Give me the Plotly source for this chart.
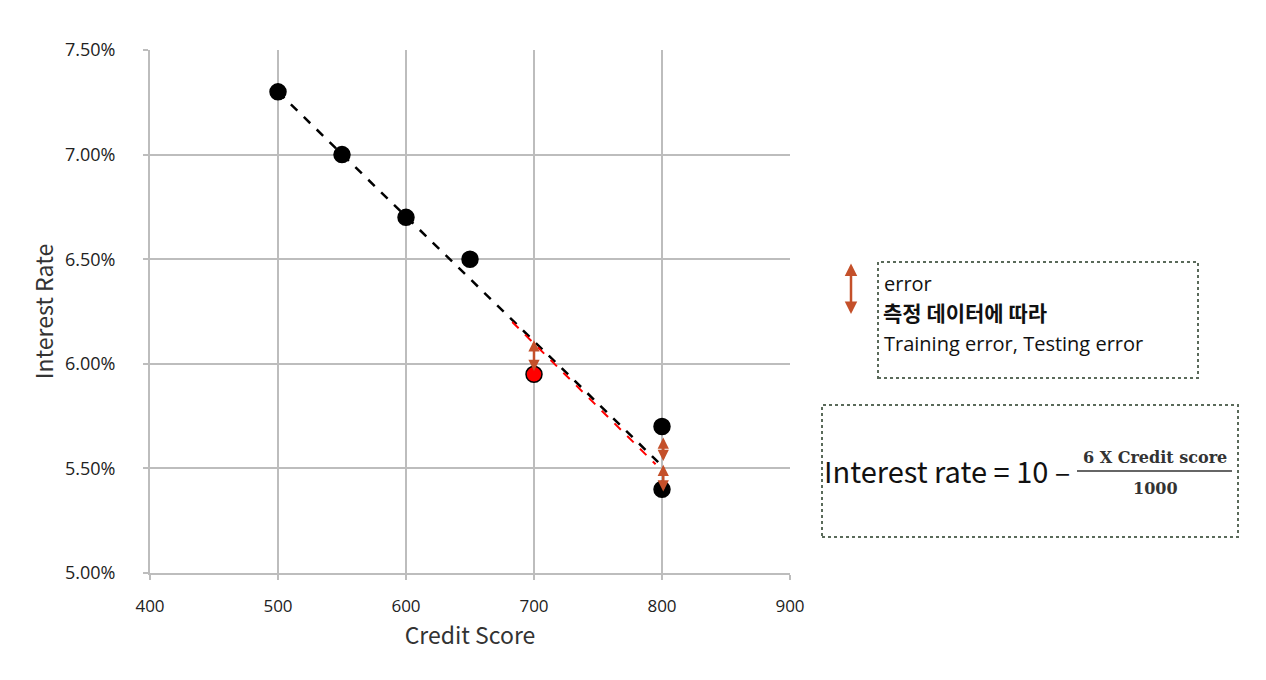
import plotly.graph_objects as go

# ---- data ----
credit_scores = [500, 550, 600, 650, 700, 800, 800]
interest_rates = [7.30, 7.00, 6.70, 6.50, 5.95, 5.70, 5.40]
point_colors = ["black", "black", "black", "black", "red", "black", "black"]

fit_x = [500, 797]
fit_y = [7.30, 5.53]

test_x = [683, 795]
test_y = [6.20, 5.52]

err_x = [700, 801, 801]
err_top = [6.12, 5.655, 5.525]
err_bottom = [5.965, 5.535, 5.39]

x_ticks = [400, 500, 600, 700, 800, 900]
y_ticks = [5.0, 5.5, 6.0, 6.5, 7.0, 7.5]
y_tick_labels = ["5.00%", "5.50%", "6.00%", "6.50%", "7.00%", "7.50%"]

W, H = 1266, 680
OFF = 8  # page body margin
L, T = 142, 42
PW, PH = 640, 523
R = W - L - PW
B = H - T - PH

def px(x):
    return (x - OFF - L) / PW

def py(y):
    return (T + PH - (y - OFF)) / PH

FONT = "Noto Sans CJK KR"
LATIN = "Open Sans"
TICKFONT = "Open Sans"
ARROW = "#C4502A"

fig = go.Figure()

fig.add_trace(go.Scatter(x=fit_x, y=fit_y, mode="lines",
                         line=dict(color="black", width=2.5, dash="dash"),
                         hoverinfo="skip", showlegend=False))
fig.add_trace(go.Scatter(x=test_x, y=test_y, mode="lines",
                         line=dict(color="red", width=2, dash="dash"),
                         hoverinfo="skip", showlegend=False))
fig.add_trace(go.Scatter(x=credit_scores, y=interest_rates, mode="markers",
                         marker=dict(color=point_colors, size=16,
                                     line=dict(color="black", width=1.5)),
                         showlegend=False))

annotations = []
for x, y0, y1 in zip(err_x, err_top, err_bottom):
    annotations.append(dict(x=x, y=y1, ax=x, ay=y0, xref="x", yref="y",
                            axref="x", ayref="y", text="", showarrow=True,
                            arrowside="end+start", arrowhead=2, startarrowhead=2,
                            arrowsize=0.9, startarrowsize=0.9, arrowwidth=2.5,
                            arrowcolor=ARROW))

# legend arrow
annotations.append(dict(x=px(851), y=py(314), xref="paper", yref="paper",
                        ax=0, ay=-52, text="", showarrow=True,
                        arrowside="end+start", arrowhead=2, startarrowhead=2,
                        arrowsize=1.0, startarrowsize=1.0, arrowwidth=2.5,
                        arrowcolor=ARROW))

annotations += [
    dict(x=px(882), y=py(283), xref="paper", yref="paper", text="error",
         showarrow=False, xanchor="left", yanchor="middle",
         font=dict(family=LATIN, size=20, color="#111")),
    dict(x=px(881), y=py(312), xref="paper", yref="paper", text="<b>측정 데이터에 따라</b>",
         showarrow=False, xanchor="left", yanchor="middle",
         font=dict(family=FONT, size=21, color="#111")),
    dict(x=px(882), y=py(343), xref="paper", yref="paper",
         text="Training error, Testing error",
         showarrow=False, xanchor="left", yanchor="middle",
         font=dict(family=LATIN, size=20, color="#111")),
    dict(x=px(822), y=py(470), xref="paper", yref="paper",
         text="Interest rate = 10 \u2013",
         showarrow=False, xanchor="left", yanchor="middle",
         font=dict(family=FONT, size=29, color="#111")),
    dict(x=px(1155), y=py(457), xref="paper", yref="paper",
         text="<b>6 X Credit score</b>",
         showarrow=False, xanchor="center", yanchor="middle",
         font=dict(family="DejaVu Serif", size=16, color="#333")),
    dict(x=px(1155), y=py(488), xref="paper", yref="paper",
         text="<b>1000</b>",
         showarrow=False, xanchor="center", yanchor="middle",
         font=dict(family="DejaVu Serif", size=16, color="#333")),
]

shapes = [
    dict(type="rect", xref="paper", yref="paper",
         x0=px(878), x1=px(1198), y0=py(378), y1=py(262),
         line=dict(color="#5a6a5a", width=2, dash="dot")),
    dict(type="rect", xref="paper", yref="paper",
         x0=px(822), x1=px(1238), y0=py(537), y1=py(405),
         line=dict(color="#5a6a5a", width=2, dash="dot")),
    dict(type="line", xref="paper", yref="paper",
         x0=px(1077), x1=px(1232), y0=py(471), y1=py(471),
         line=dict(color="#333", width=1.5)),
]

fig.update_layout(
    width=W, height=H,
    margin=dict(l=L, r=R, t=T, b=B),
    paper_bgcolor="white", plot_bgcolor="white",
    font=dict(family=FONT, color="#333"),
    annotations=annotations, shapes=shapes,
    xaxis=dict(range=[400, 900], tickvals=x_ticks, showgrid=True,
               gridcolor="#BDBDBD", gridwidth=2, zeroline=False,
               showline=True, linecolor="#BDBDBD", linewidth=2,
               ticks="outside", ticklen=5, tickcolor="#BDBDBD", tickwidth=2,
               ticklabelstandoff=12,
               tickfont=dict(family=TICKFONT, size=17, color="#222"),
               title=dict(text="Credit Score", font=dict(size=23, color="#333"), standoff=8)),
    yaxis=dict(range=[5.0, 7.5], tickvals=y_ticks, ticktext=y_tick_labels,
               showgrid=True, gridcolor="#BDBDBD", gridwidth=2, zeroline=False,
               showline=True, linecolor="#BDBDBD", linewidth=2,
               ticks="outside", ticklen=5, tickcolor="#BDBDBD", tickwidth=2,
               ticklabelstandoff=24,
               tickfont=dict(family=TICKFONT, size=18, color="#222"),
               title=dict(text="Interest Rate", font=dict(size=23, color="#333"), standoff=5)),
)

fig.write_html("out.html")
